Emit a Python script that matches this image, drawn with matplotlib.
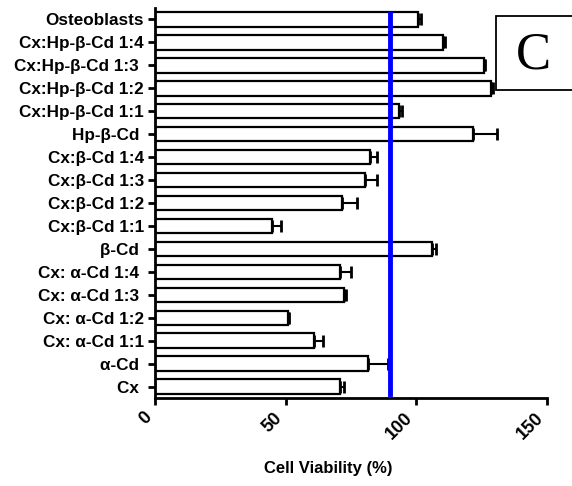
import numpy as np
import matplotlib
matplotlib.use("Agg")
from matplotlib import pyplot as plt
from matplotlib.patches import Rectangle

plt.rcParams["font.family"] = ["Liberation Sans", "DejaVu Sans"]

NB = "\u00a0"  # trailing pad kept by a few labels

# groups listed bottom to top
groups = [
    "Cx" + NB,
    "α-Cd" + NB,
    "Cx: α-Cd 1:1",
    "Cx: α-Cd 1:2",
    "Cx: α-Cd 1:3" + NB,
    "Cx: α-Cd 1:4" + NB,
    "β-Cd" + NB,
    "Cx:β-Cd 1:1",
    "Cx:β-Cd 1:2",
    "Cx:β-Cd 1:3",
    "Cx:β-Cd 1:4",
    "Hp-β-Cd" + NB,
    "Cx:Hp-β-Cd 1:1",
    "Cx:Hp-β-Cd 1:2",
    "Cx:Hp-β-Cd 1:3" + NB,
    "Cx:Hp-β-Cd 1:4",
    "Osteoblasts",
]
viability = [71.0, 81.6, 61.0, 50.8, 72.3, 71.0, 105.9, 44.9, 71.4, 80.4,
             82.3, 121.6, 93.5, 128.5, 125.9, 110.3, 100.8]
sem = [1.5, 7.5, 3.4, 0.5, 0.8, 4.2, 1.8, 3.3, 5.8, 4.6,
       2.7, 9.2, 1.0, 0.8, 0.6, 0.6, 1.2]
threshold = 90
xticks = [0, 50, 100, 150]

fig = plt.figure(figsize=(5.72, 4.86), dpi=100)
ax = fig.add_axes([0.271, 0.181, 0.685, 0.8025])

pos = np.arange(len(groups))
ax.barh(pos, viability, height=0.63, color="white", edgecolor="black",
        linewidth=1.6, zorder=2)
ax.errorbar(viability, pos, xerr=[np.zeros(len(sem)), sem], fmt="none",
            ecolor="black", elinewidth=1.5, capsize=4, capthick=2, zorder=1)
ax.axvline(threshold, ymin=0.01, ymax=0.985, color="#0000ff", linewidth=3.5,
           zorder=3)

ax.set_xlim(0, 150)
ax.set_ylim(-0.5, 16.5)
ax.set_yticks(pos)
ax.set_yticklabels(groups, fontsize=12.3, fontweight="bold")
ax.set_xticks(xticks)
ax.set_xticklabels([str(t) for t in xticks], fontsize=13, fontweight="bold",
                   rotation=45, ha="right")

for side in ["top", "right"]:
    ax.spines[side].set_visible(False)
for side in ["left", "bottom"]:
    ax.spines[side].set_linewidth(2)
ax.tick_params(width=2, length=5, pad=3)

fig.text(0.573, 0.02, "Cell Viability (%)", ha="center", va="bottom",
         fontsize=12, fontweight="bold")

# panel letter
fig.patches.append(Rectangle((0.868, 0.815), 0.135, 0.153, transform=fig.transFigure,
                             facecolor="white", edgecolor="black", linewidth=1.3))
fig.text(0.933, 0.885, "C", ha="center", va="center", fontsize=38,
         family="Liberation Serif")

fig.savefig("out.png", dpi=100)
